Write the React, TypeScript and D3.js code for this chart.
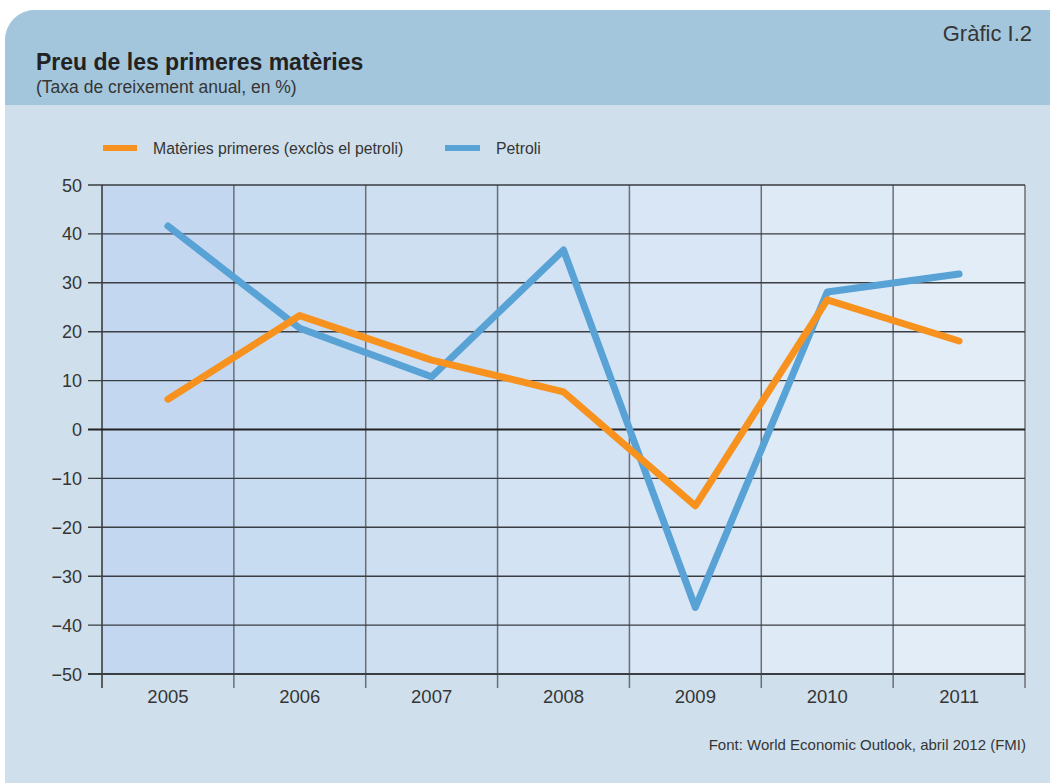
import React from "react";
import * as d3 from "d3";

const years = ["2005", "2006", "2007", "2008", "2009", "2010", "2011"];
const materies = [6.2, 23.3, 14.2, 7.7, -15.6, 26.5, 18.1];
const petroli = [41.6, 20.7, 10.8, 36.7, -36.4, 28.1, 31.8];
const yTicks = [50, 40, 30, 20, 10, 0, -10, -20, -30, -40, -50];
const seriesNames = ["Matèries primeres (exclòs el petroli)", "Petroli"];
const seriesColors = ["#f7921e", "#58a2d6"];

const W = 1050, H = 783;
const left = 102, right = 1025, top = 185, bottom = 674;
const font = "'Liberation Sans', Arial, Helvetica, sans-serif";

export default function App() {
  const x = d3.scaleBand<string>().domain(years).range([left, right]).padding(0);
  const y = d3.scaleLinear().domain([-50, 50]).range([bottom, top]);
  const line = d3
    .line<number>()
    .x((_, i) => (x(years[i]) as number) + x.bandwidth() / 2)
    .y((d) => y(d));
  const bandColor = d3.interpolateRgb("#c3d8f0", "#e3edf7");
  const minus = (v: number) => (v < 0 ? "\u2212" + Math.abs(v) : String(v));
  const r = 30;
  const panelPath = `M5,${10 + r} A${r},${r} 0 0 1 ${5 + r},10 L${W},10 L${W},${H} L5,${H} Z`;
  const headerPath = `M5,${10 + r} A${r},${r} 0 0 1 ${5 + r},10 L${W},10 L${W},105 L5,105 Z`;
  const txt = "#353535";

  return (
    <svg width={W} height={H} style={{ position: "absolute", left: 0, top: 0 }}>
      <rect x={0} y={0} width={W} height={H} fill="#ffffff" />
      <path d={panelPath} fill="#cfe0ec" />
      <path d={headerPath} fill="#a3c6dc" />
      <text x={1032} y={41} textAnchor="end" fontFamily={font} fontSize={22} fill={txt}>
        Gràfic I.2
      </text>
      <text x={36} y={70} fontFamily={font} fontSize={23} fontWeight="bold" fill="#222">
        Preu de les primeres matèries
      </text>
      <text x={36} y={93} fontFamily={font} fontSize={17.5} fill={txt}>
        (Taxa de creixement anual, en %)
      </text>

      {/* legend */}
      <line x1={103} x2={137} y1={148} y2={148} stroke={seriesColors[0]} strokeWidth={6} />
      <text x={153} y={154} fontFamily={font} fontSize={15.8} fill={txt}>{seriesNames[0]}</text>
      <line x1={445} x2={480} y1={148} y2={148} stroke={seriesColors[1]} strokeWidth={6} />
      <text x={496} y={154} fontFamily={font} fontSize={15.8} fill={txt}>{seriesNames[1]}</text>

      {/* plot bands */}
      {years.map((yr, i) => (
        <rect
          key={yr}
          x={x(yr) as number}
          y={top}
          width={x.bandwidth()}
          height={bottom - top}
          fill={bandColor(i / (years.length - 1))}
        />
      ))}
      {/* vertical grid */}
      {years.map((yr, i) =>
        i === 0 ? null : (
          <line key={"v" + yr} x1={x(yr) as number} x2={x(yr) as number} y1={top} y2={bottom + 14} stroke="#6b6f75" strokeWidth={1.5} />
        )
      )}
      <line x1={left} x2={left} y1={top} y2={bottom + 14} stroke="#333" strokeWidth={1.5} />
      <line x1={right} x2={right} y1={top} y2={bottom + 14} stroke="#6b6f75" strokeWidth={1.5} />
      {/* horizontal grid */}
      {yTicks.map((t) => (
        <g key={"h" + t}>
          <line x1={left - 14} x2={right} y1={y(t)} y2={y(t)} stroke={t === 0 ? "#222" : "#3a3d42"} strokeWidth={t === 0 || t === -50 ? 1.8 : 1.4} />
          <text x={82} y={y(t) + 6.5} textAnchor="end" fontFamily={font} fontSize={18} fill={txt}>
            {minus(t)}
          </text>
        </g>
      ))}
      {years.map((yr) => (
        <text key={"xl" + yr} x={(x(yr) as number) + x.bandwidth() / 2} y={703} textAnchor="middle" fontFamily={font} fontSize={18.5} fill={txt}>
          {yr}
        </text>
      ))}

      {/* series */}
      <path d={line(petroli) || ""} fill="none" stroke={seriesColors[1]} strokeWidth={7} strokeLinecap="round" strokeLinejoin="round" />
      <path d={line(materies) || ""} fill="none" stroke={seriesColors[0]} strokeWidth={7} strokeLinecap="round" strokeLinejoin="round" />

      <text x={1026} y={750} textAnchor="end" fontFamily={font} fontSize={15} fill={txt}>
        Font: World Economic Outlook, abril 2012 (FMI)
      </text>
    </svg>
  );
}
